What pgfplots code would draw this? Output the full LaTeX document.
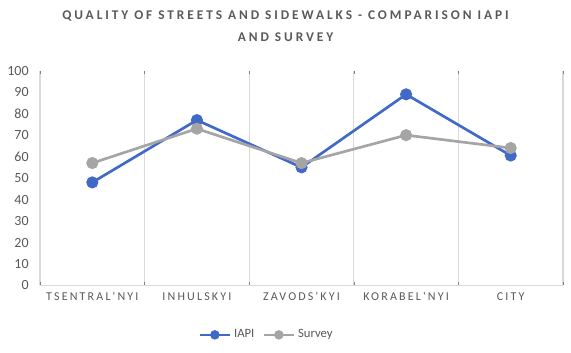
\documentclass[border=0pt]{standalone}
\usepackage{pgfplots}
\pgfplotsset{compat=1.18}
\usepackage{fontspec}
\setmainfont{Carlito}
\newfontfamily\spaced[LetterSpace=18]{Carlito}
\newfontfamily\tspaced[LetterSpace=22]{Carlito}
\definecolor{iapi}{HTML}{4169C8}
\definecolor{survey}{HTML}{A5A5A5}
\definecolor{txt}{HTML}{595959}
\definecolor{gridc}{HTML}{D9D9D9}
\begin{document}
\begin{tikzpicture}
\path[use as bounding box] (-30pt,-50pt) rectangle (398pt,214pt);
\begin{axis}[
  scale only axis,
  width=392pt, height=161pt,
  xmin=-0.5, xmax=4.5, ymin=0, ymax=100,
  xtick={0,1,2,3,4},
  xticklabels={TSENTRAL'NYI,INHULSKYI,ZAVODS'KYI,KORABEL'NYI,CITY},
  x tick label style={font=\spaced\fontsize{9}{11}\selectfont, text=txt, yshift=-2pt},
  ytick={0,10,...,100},
  y tick label style={font=\fontsize{10.5}{12}\selectfont, text=txt, xshift=-5pt},
  /pgf/number format/assume math mode=true,
  major tick length=0pt,
  minor xtick={-0.5,0.5,1.5,2.5,3.5,4.5},
  minor x grid style={gridc, line width=0.8pt},
  xminorgrids=true,
  axis line style={draw=none},
  extra y ticks={0}, extra y tick labels={},
  extra y tick style={grid=major, major grid style={gridc, line width=0.8pt}},
  title={QUALITY OF STREETS AND SIDEWALKS - COMPARISON IAPI\\AND SURVEY},
  title style={font=\tspaced\bfseries\fontsize{10}{16.5}\selectfont, text=txt, align=center, yshift=12pt, xshift=-12pt},
  legend style={at={(0.5,-0.18)}, anchor=north, xshift=-26pt, draw=none, legend columns=2,
    font=\fontsize{9.5}{11}\selectfont, text=txt,
    /tikz/every even column/.append style={column sep=4pt}},
  legend image code/.code={
    \draw[#1, mark=none] (0cm,0cm) -- (0.8cm,0cm);
    \draw[#1, only marks, mark size=2.5pt] plot coordinates {(0.4cm,0cm)};
  },
]
\addplot[iapi, line width=2pt, mark=*, mark size=3.5pt] coordinates {(0,48) (1,77) (2,55) (3,89) (4,60.5)};
\addlegendentry{IAPI}
\addplot[survey, line width=2pt, mark=*, mark size=3.5pt] coordinates {(0,57) (1,73) (2,57) (3,70) (4,64)};
\addlegendentry{Survey}
\end{axis}
\end{tikzpicture}
\end{document}
